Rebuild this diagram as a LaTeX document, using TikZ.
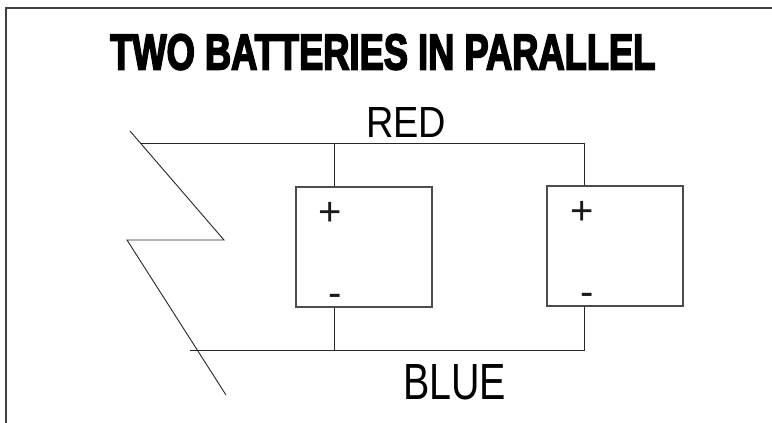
\documentclass[tikz,border=0pt]{standalone}
\usepackage{fontspec}
\usepackage{graphicx}
\setmainfont{Liberation Sans}
\newfontfamily\heavyfont[FakeBold=4]{Liberation Sans Bold}
\begin{document}
\begin{tikzpicture}[x=1pt,y=-1pt,
  frame/.style={draw=black!75,line width=1.5pt},
  wire/.style={draw=black!85,line width=0.9pt},
  battery/.style={draw=black!70,line width=1.2pt,minimum width=136pt,minimum height=120pt,inner sep=0pt},
  label/.style={inner sep=0pt,anchor=south west},
  sign/.style={inner sep=0pt,anchor=base,font=\fontsize{40}{40}\selectfont,text=black!90}]
\useasboundingbox (0,0) rectangle (772,423);
% frame
\coordinate (fa) at (6,423);
\coordinate (fb) at (6,8);
\coordinate (fc) at (772,8);
\draw[frame] (fa) -- (fb) -- (fc);
% title and labels
\node[label] (title) at (110,70) {\resizebox{545pt}{35pt}{\heavyfont TWO BATTERIES IN PARALLEL}};
\node[label] (red) at (366,138) {\resizebox{80pt}{30pt}{RED}};
\node[label] (blue) at (403,400) {\resizebox{103pt}{35pt}{BLUE}};
% batteries
\node[battery] (b1) at (364,247) {};
\node[battery] (b2) at (615,246) {};
\node[sign] (p1) at (330,225) {+};
\node[sign] (m1) at (335,306) {-};
\node[sign] (p2) at (582,224) {+};
\node[sign] (m2) at (587,305) {-};
% wires
\coordinate (rl) at (140,143);
\coordinate (t1) at (334,143);
\coordinate (t2) at (584,143);
\coordinate (bl) at (190,350);
\coordinate (u1) at (334,350);
\coordinate (u2) at (584,350);
\draw[wire] (rl) -- (t2) -- (t2 |- b2.north);
\draw[wire] (t1) -- (t1 |- b1.north);
\draw[wire] (bl) -- (u2) -- (u2 |- b2.south);
\draw[wire] (u1) -- (u1 |- b1.south);
% zigzag
\coordinate (z1) at (130,131);
\coordinate (z2) at (224,240);
\coordinate (z3) at (127,240);
\coordinate (z4) at (226,395);
\draw[wire] (z1) -- (z2) -- (z3) -- (z4);
\end{tikzpicture}
\end{document}
